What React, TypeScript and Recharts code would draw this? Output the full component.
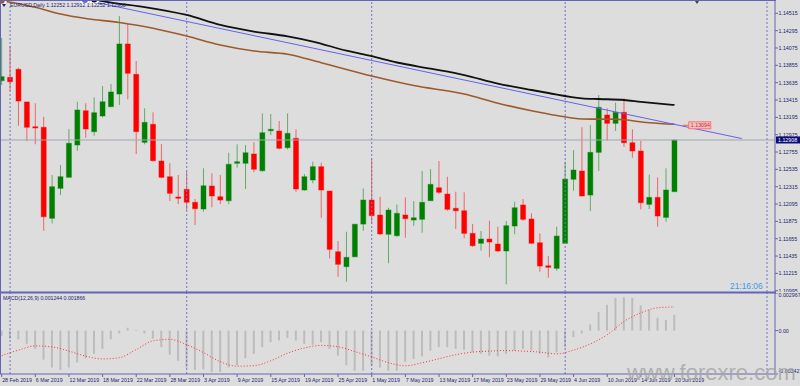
import React from "react";
import { ComposedChart, Bar, Line, XAxis, YAxis, ReferenceLine, ReferenceDot } from "recharts";

const FONT = "'Liberation Sans', Arial, sans-serif";
const BORDER = "#6464b4";
const AXIS_TEXT = "#1e1e6e";
const BG = "#dddddd";
const BODY_W = 6;

// x-axis labels, one every 4 daily bars starting at bar 0 (28 Feb 2019)
const tickDates = [
  "28 Feb 2019", "6 Mar 2019", "12 Mar 2019", "18 Mar 2019", "22 Mar 2019", "28 Mar 2019",
  "3 Apr 2019", "9 Apr 2019", "15 Apr 2019", "19 Apr 2019", "25 Apr 2019", "1 May 2019",
  "7 May 2019", "13 May 2019", "17 May 2019", "23 May 2019", "29 May 2019", "4 Jun 2019",
  "10 Jun 2019", "14 Jun 2019", "20 Jun 2019",
];

const priceTicks = [
  1.14515, 1.14295, 1.14075, 1.13855, 1.13635, 1.13415, 1.13195, 1.12975, 1.12755,
  1.12535, 1.12315, 1.12095, 1.11875, 1.11655, 1.11435, 1.11215, 1.10995,
];

// month separators (bar index)
const separators = [1, 22, 44, 67, 91];

const opens = [
  1.13660, 1.13703, 1.13805, 1.13390, 1.13076, 1.13069, 1.11914, 1.12294, 1.12434, 1.12844,
  1.13279, 1.13013, 1.13212, 1.13330, 1.13491, 1.14126, 1.13741, 1.12878, 1.13107, 1.12641,
  1.12442, 1.12184, 1.12282, 1.12117, 1.12032, 1.12324, 1.12188, 1.12137, 1.12612, 1.12612,
  1.12730, 1.12518, 1.13025, 1.13022, 1.12810, 1.12929, 1.12273, 1.12400, 1.12569, 1.12260,
  1.11490, 1.11300, 1.11426, 1.11841, 1.12146, 1.11956, 1.11711, 1.11693, 1.11956, 1.11892,
  1.11901, 1.12137, 1.12302, 1.12222, 1.12041, 1.12010, 1.11723, 1.11597, 1.11651, 1.11588,
  1.11499, 1.11816, 1.12083, 1.11905, 1.11604, 1.11312, 1.11279, 1.11597, 1.12409, 1.12514,
  1.12209, 1.12751, 1.13225, 1.13119, 1.13259, 1.12873, 1.12768, 1.12091, 1.12180, 1.11926,
  1.12252,
];
const highs = [
  1.14202, 1.14100, 1.13825, 1.13395, 1.13373, 1.13203, 1.12463, 1.12590, 1.13047, 1.13393,
  1.13373, 1.13449, 1.13593, 1.13618, 1.14481, 1.14388, 1.13910, 1.13310, 1.13259, 1.12857,
  1.12612, 1.12463, 1.12505, 1.12159, 1.12548, 1.12485, 1.12463, 1.12746, 1.12853, 1.12844,
  1.12878, 1.13246, 1.13237, 1.13149, 1.13246, 1.13043, 1.12476, 1.12632, 1.12619, 1.12265,
  1.11626, 1.11744, 1.11845, 1.12294, 1.12662, 1.12188, 1.12048, 1.12091, 1.12180, 1.12133,
  1.12514, 1.12539, 1.12641, 1.12442, 1.12251, 1.12244, 1.11841, 1.11753, 1.11883, 1.11807,
  1.11880, 1.12124, 1.12159, 1.11977, 1.11723, 1.11435, 1.11807, 1.12632, 1.12780, 1.13069,
  1.13098, 1.13478, 1.13310, 1.13381, 1.13437, 1.13043, 1.12895, 1.12472, 1.12434, 1.12548,
  1.12912,
];
const lows = [
  1.13605, 1.13529, 1.13089, 1.12895, 1.12853, 1.11756, 1.11850, 1.12209, 1.12434, 1.12772,
  1.12937, 1.12962, 1.13195, 1.13330, 1.13352, 1.13424, 1.12730, 1.12853, 1.12632, 1.12421,
  1.12133, 1.12095, 1.12019, 1.11829, 1.11998, 1.12053, 1.12095, 1.12095, 1.12556, 1.12286,
  1.12498, 1.12505, 1.12971, 1.12789, 1.12789, 1.12251, 1.12264, 1.12358, 1.11921, 1.11406,
  1.11173, 1.11109, 1.11420, 1.11756, 1.11850, 1.11702, 1.11343, 1.11680, 1.11668, 1.11820,
  1.11731, 1.12137, 1.12222, 1.12010, 1.11778, 1.11660, 1.11553, 1.11503, 1.11419, 1.11490,
  1.11076, 1.11711, 1.11880, 1.11592, 1.11236, 1.11160, 1.11249, 1.11597, 1.12264, 1.12190,
  1.12006, 1.12514, 1.12899, 1.13022, 1.12822, 1.12683, 1.12028, 1.12032, 1.11807, 1.11871,
  1.12252,
];
const closes = [
  1.13711, 1.13647, 1.13402, 1.13069, 1.13060, 1.11934, 1.12315, 1.12442, 1.12866, 1.13288,
  1.13047, 1.13254, 1.13393, 1.13517, 1.14126, 1.13754, 1.13013, 1.13132, 1.12645, 1.12434,
  1.12231, 1.12168, 1.12117, 1.12036, 1.12327, 1.12197, 1.12146, 1.12599, 1.12632, 1.12746,
  1.12536, 1.13000, 1.13043, 1.12802, 1.12992, 1.12286, 1.12442, 1.12569, 1.12273, 1.11520,
  1.11330, 1.11419, 1.11838, 1.12146, 1.11947, 1.11715, 1.12019, 1.11977, 1.11909, 1.11921,
  1.12117, 1.12345, 1.12244, 1.12028, 1.12010, 1.11723, 1.11566, 1.11651, 1.11613, 1.11499,
  1.11820, 1.12048, 1.11901, 1.11597, 1.11308, 1.11292, 1.11689, 1.12412, 1.12527, 1.12197,
  1.12751, 1.13322, 1.13119, 1.13259, 1.12873, 1.12768, 1.12112, 1.12180, 1.11943, 1.12273,
  1.12908,
];

// moving averages, read at a few bars
const blackMaIdx = [11, 13, 17, 22, 26, 30, 34, 37, 41, 44, 47, 51, 55, 59, 63, 65, 69, 71, 74, 76, 80];
const blackMa = [
  1.14690, 1.14652, 1.14595, 1.14494, 1.14367, 1.14284, 1.14223, 1.14157, 1.14041, 1.13971,
  1.13891, 1.13813, 1.13732, 1.13624, 1.13542, 1.13504, 1.13437, 1.13428, 1.13415, 1.13392, 1.13352,
];
const brownMaIdx = [0, 4, 7, 10, 14, 18, 22, 26, 30, 34, 38, 44, 49, 55, 59, 63, 66, 69, 73, 77, 80];
const brownMa = [
  1.14674, 1.14591, 1.14506, 1.14449, 1.14398, 1.14326, 1.14227, 1.14113, 1.14037, 1.13996,
  1.13888, 1.13720, 1.13599, 1.13491, 1.13375, 1.13279, 1.13218, 1.13174, 1.13170, 1.13127, 1.13107,
];
const trendIdx = [9.9, 88];
const trendVal = [1.14684, 1.12926];
const alertIdx = 81.7;
const alertLevel = 1.13094;

// MACD(12,26,9)
const macdHist = [
  -0.00045, -0.00064, -0.00069, -0.00104, -0.00144, -0.00230, -0.00292, -0.00310, -0.00292, -0.00252,
  -0.00219, -0.00184, -0.00144, -0.00069, -0.00023, 0.00022, 0.00006, -0.00023, -0.00064, -0.00131,
  -0.00190, -0.00238, -0.00292, -0.00310, -0.00305, -0.00326, -0.00326, -0.00292, -0.00273, -0.00219,
  -0.00184, -0.00131, -0.00091, -0.00077, -0.00059, -0.00077, -0.00104, -0.00112, -0.00091, -0.00144,
  -0.00198, -0.00273, -0.00318, -0.00318, -0.00278, -0.00292, -0.00318, -0.00318, -0.00246, -0.00224,
  -0.00203, -0.00158, -0.00131, -0.00131, -0.00144, -0.00150, -0.00171, -0.00184, -0.00198, -0.00203,
  -0.00184, -0.00158, -0.00144, -0.00158, -0.00184, -0.00211, -0.00171, -0.00131, -0.00051, -0.00023,
  0.00049, 0.00146, 0.00204, 0.00258, 0.00263, 0.00258, 0.00199, 0.00164, 0.00102, 0.00084, 0.001244,
];
// signal line, every second bar
const macdSignal = [
  -0.00198, -0.00154, -0.00121, -0.00129, -0.00162, -0.00202, -0.00224, -0.00214, -0.00150, -0.00081,
  -0.00069, -0.00112, -0.00174, -0.00246, -0.00281, -0.00277, -0.00238, -0.00178, -0.00137, -0.00117,
  -0.00128, -0.00166, -0.00208, -0.00254, -0.00278, -0.00254, -0.00222, -0.00190, -0.00170, -0.00162,
  -0.00158, -0.00162, -0.00170, -0.00184, -0.00154, -0.00105, -0.00033, 0.00072, 0.00140, 0.00180, 0.001866,
];
const macdTicks = [-0.003427, 0, 0.002967];

const candles = opens.map((o, i) => ({
  i,
  o,
  h: highs[i],
  l: lows[i],
  c: closes[i],
  range: [lows[i], highs[i]],
}));
const blackRows = blackMaIdx.map((i, k) => ({ i, v: blackMa[k] }));
const brownRows = brownMaIdx.map((i, k) => ({ i, v: brownMa[k] }));
const trendRows = trendIdx.map((i, k) => ({ i, v: trendVal[k] }));
const histRows = macdHist.map((v, i) => ({ i, hist: v }));
const signalRows = macdSignal.map((v, k) => ({ i: k * 2, v }));
const last = candles[candles.length - 1];

const X_DOMAIN: [number, number] = [-0.2, 91.95];

function Candle(props: any) {
  const { x, y, width, height, payload } = props;
  if (!payload || height == null || y == null) return null;
  const { o, h, l, c } = payload;
  const up = c >= o;
  const color = up ? "#008000" : "#ff0000";
  const k = height / (h - l);
  const top = y + (h - Math.max(o, c)) * k;
  const bodyH = Math.max(1, Math.abs(o - c) * k);
  const cx = x + (width || 0) / 2;
  return (
    <g>
      <line x1={cx} x2={cx} y1={y} y2={y + height} stroke={color} strokeOpacity={0.55} strokeWidth={1} />
      <rect
        x={cx - BODY_W / 2 + 0.5}
        y={top}
        width={BODY_W - 1}
        height={bodyH}
        fill={color}
        stroke={color}
        strokeOpacity={0.4}
        strokeWidth={1}
      />
    </g>
  );
}

function PriceTick({ x, y, payload }: any) {
  return (
    <text x={x + 0.5} y={y + 2} fontSize={5.3} fill={AXIS_TEXT} fontFamily={FONT}>
      {payload.value.toFixed(5)}
    </text>
  );
}

function MacdTick({ x, y, payload }: any) {
  const v = payload.value;
  const label = v === 0 ? "0.00" : v.toFixed(6);
  const dy = v > 0 ? 4 : v < 0 ? -1 : 2;
  return (
    <text x={x + 0.5} y={y + dy} fontSize={5.3} fill={AXIS_TEXT} fontFamily={FONT}>
      {label}
    </text>
  );
}

function DateTick({ x, y, payload }: any) {
  const label = tickDates[Math.round(payload.value / 4)];
  return (
    <text x={x + 0.5} y={y + 5} fontSize={5.3} fill={AXIS_TEXT} fontFamily={FONT}>
      {label}
    </text>
  );
}

function PriceTag({ viewBox }: any) {
  if (!viewBox) return null;
  const { x, y, width } = viewBox;
  return (
    <g>
      <rect x={x + width + 1} y={y - 3.5} width={24} height={7} fill="#0c0c78" />
      <text x={x + width + 3} y={y + 2} fontSize={5.3} fill="#ffffff" fontFamily={FONT}>
        {last.c.toFixed(5)}
      </text>
    </g>
  );
}

function AlertTag(props: any) {
  const { cx, cy } = props;
  if (cx == null || cy == null) return null;
  return (
    <g>
      <line x1={cx - 6} x2={cx} y1={cy} y2={cy} stroke="#ff5050" strokeWidth={1} />
      <rect x={cx} y={cy - 3.5} width={22} height={7} fill="#efc4c4" stroke="#ff6060" strokeWidth={0.8} />
      <text x={cx + 2} y={cy + 2} fontSize={5.3} fill="#e02020" fontFamily={FONT}>
        {alertLevel.toFixed(5)}
      </text>
    </g>
  );
}

export default function App() {
  const header = `EURUSD,Daily  ${last.o.toFixed(5)} ${last.h.toFixed(5)} ${last.l.toFixed(5)} ${last.c.toFixed(5)}`;
  const macdHeader = `MACD(12,26,9) ${macdHist[macdHist.length - 1].toFixed(6)} ${macdSignal[macdSignal.length - 1].toFixed(6)}`;
  return (
    <div style={{ position: "absolute", left: 0, top: 0, width: 800, height: 386, background: BG, overflow: "hidden" }}>
      <div style={{ position: "absolute", left: 0, top: 0 }}>
        <ComposedChart width={800} height={292} data={candles} margin={{ top: 0, right: 0, bottom: 0, left: 0 }}>
          <XAxis dataKey="i" type="number" domain={X_DOMAIN} allowDataOverflow hide />
          <YAxis
            orientation="right"
            width={25}
            domain={[1.10979, 1.14684]}
            allowDataOverflow
            ticks={priceTicks}
            interval={0}
            tick={<PriceTick />}
            tickSize={3}
            tickMargin={0}
            axisLine={{ stroke: BORDER }}
            tickLine={{ stroke: BORDER }}
          />
          {separators.map((s) => (
            <ReferenceLine key={s} x={s} stroke="#7474c4" strokeDasharray="2 2" />
          ))}
          <ReferenceLine y={last.c} stroke="#a2a6b4" label={<PriceTag />} />
          <Bar dataKey="range" barSize={BODY_W} shape={<Candle />} isAnimationActive={false} />
          <Line data={brownRows} dataKey="v" type="monotone" stroke="#9c5a2c" strokeWidth={1.6} dot={false} isAnimationActive={false} />
          <Line data={trendRows} dataKey="v" type="linear" stroke="#6262e8" strokeWidth={1} dot={false} isAnimationActive={false} />
          <Line data={blackRows} dataKey="v" type="monotone" stroke="#111111" strokeWidth={1.8} dot={false} isAnimationActive={false} />
          <ReferenceDot x={alertIdx} y={alertLevel} r={0} shape={<AlertTag />} />
        </ComposedChart>
      </div>
      <div style={{ position: "absolute", left: 0, top: 293 }}>
        <ComposedChart width={800} height={93} data={histRows} margin={{ top: 0, right: 0, bottom: 0, left: 0 }}>
          <XAxis
            dataKey="i"
            type="number"
            domain={X_DOMAIN}
            allowDataOverflow
            ticks={tickDates.map((_, k) => k * 4)}
            interval={0}
            height={12}
            tick={<DateTick />}
            tickSize={3}
            tickMargin={0}
            axisLine={{ stroke: BORDER }}
            tickLine={{ stroke: BORDER }}
          />
          <YAxis
            orientation="right"
            width={25}
            domain={[macdTicks[0], macdTicks[2]]}
            allowDataOverflow
            ticks={macdTicks}
            interval={0}
            tick={<MacdTick />}
            tickSize={3}
            tickMargin={0}
            axisLine={{ stroke: BORDER }}
            tickLine={{ stroke: BORDER }}
          />
          {separators.map((s) => (
            <ReferenceLine key={s} x={s} stroke="#7474c4" strokeDasharray="2 2" />
          ))}
          <Bar dataKey="hist" barSize={2} fill="#bcbcbc" isAnimationActive={false} />
          <Line data={signalRows} dataKey="v" type="monotone" stroke="#ff3030" strokeWidth={1} strokeDasharray="1 2" dot={false} isAnimationActive={false} />
        </ComposedChart>
      </div>
      <svg width={800} height={386} style={{ position: "absolute", left: 0, top: 0, pointerEvents: "none" }}>
        <line x1={0} x2={776} y1={0.5} y2={0.5} stroke={BORDER} />
        <line x1={0.5} x2={0.5} y1={0} y2={374} stroke={BORDER} />
        <rect x={0} y={291.5} width={776} height={2} fill={BORDER} />
        <polygon points="2,4 6,4 4,7" fill={AXIS_TEXT} />
        <polygon points="695,1 699,1 697,4" fill="#444" />
        <text x={10} y={7} fontSize={5.2} fill={AXIS_TEXT} fontFamily={FONT}>{header}</text>
        <text x={3} y={300} fontSize={5.2} fill={AXIS_TEXT} fontFamily={FONT}>{macdHeader}</text>
        <text x={730} y={288.5} fontSize={8.4} fill="#3d9ae8" fontFamily={FONT}>21:16:06</text>
        <text x={627} y={379.5} fontSize={22} fill="#a6a6a6" fillOpacity={0.85} fontFamily={FONT}>www.forexre.com</text>
      </svg>
    </div>
  );
}
